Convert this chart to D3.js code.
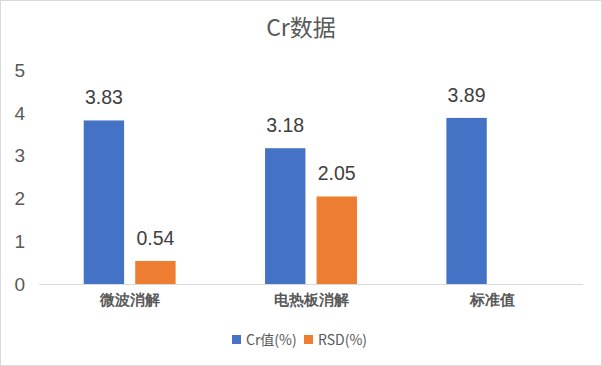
<!DOCTYPE html>
<html><head><meta charset="utf-8">
<script src="https://cdn.jsdelivr.net/npm/d3@7"></script>
<style>
body{margin:0;background:#fff;}
svg{display:block;font-family:"Noto Sans CJK SC","Noto Sans",sans-serif;}
</style></head>
<body>
<svg id="c" width="602" height="366"></svg>
<script>
const title = "Cr数据";
const categories = ["微波消解", "电热板消解", "标准值"];
const seriesNames = ["Cr值(%)", "RSD(%)"];
const crValues = [3.83, 3.18, 3.89];
const rsdValues = [0.54, 2.05, null];
const yTicks = [0, 1, 2, 3, 4, 5];
const colors = ["#4472C4", "#ED7D31"];

const seriesValues = [crValues, rsdValues];
const svg = d3.select("#c");
const W = 602, H = 366;
const numFont = "'Liberation Sans', Arial, sans-serif";

svg.append("rect").attr("x",0.5).attr("y",0.5).attr("width",W-1).attr("height",H-1)
  .attr("fill","#fff").attr("stroke","#d9d9d9");

const x0 = d3.scaleBand().domain(categories).range([39, 583]).paddingInner(0).paddingOuter(0);
const x1 = d3.scaleBand().domain(seriesNames).range([0, x0.bandwidth()]).paddingInner(0.216).paddingOuter(0.868);
const y = d3.scaleLinear().domain([0, 5]).range([284, 70.5]);

svg.append("text").attr("x", 301).attr("y", 36).attr("text-anchor","middle")
  .attr("font-size", 23).attr("fill","#595959").text(title);

// y tick labels
const yAxis = d3.axisLeft(y).tickValues(yTicks).tickSize(0).tickPadding(0).tickFormat(d3.format("d"));
const ya = svg.append("g").attr("transform","translate(25,0)").call(yAxis);
ya.select(".domain").remove();
ya.selectAll("text").attr("font-size",19).attr("fill","#595959").attr("font-family",numFont);

// baseline
svg.append("line").attr("x1",39).attr("x2",583).attr("y1",y(0)+0.5).attr("y2",y(0)+0.5)
  .attr("stroke","#d9d9d9").attr("stroke-width",1);

// bars
const data = [];
categories.forEach((c,i)=>seriesNames.forEach((s,j)=>{
  const v = seriesValues[j][i];
  if (v != null) data.push({c, s, v, j});
}));
svg.append("g").selectAll("rect").data(data).join("rect")
  .attr("x", d=>x0(d.c)+x1(d.s)).attr("width", x1.bandwidth())
  .attr("y", d=>y(d.v)).attr("height", d=>y(0)-y(d.v))
  .attr("fill", d=>colors[d.j]);
svg.append("g").selectAll("text").data(data).join("text")
  .attr("x", d=>x0(d.c)+x1(d.s)+x1.bandwidth()/2).attr("y", d=>y(d.v)-16)
  .attr("text-anchor","middle").attr("font-size",19.5).attr("fill","#404040")
  .attr("font-family",numFont)
  .text(d=>d3.format(".2f")(d.v));

// x axis labels
const xAxis = d3.axisBottom(x0).tickSize(0).tickPadding(0);
const xa = svg.append("g").attr("transform",`translate(0,${y(0)})`).call(xAxis);
xa.select(".domain").remove();
xa.selectAll("text").attr("dy",0).attr("y",21).attr("font-size",15).attr("font-weight","bold")
  .attr("fill","#595959").attr("font-family","inherit");

// legend
const legendX = [232, 304];
const lg = svg.append("g");
seriesNames.forEach((s,j)=>{
  lg.append("rect").attr("x",legendX[j]).attr("y",335).attr("width",9).attr("height",9).attr("fill",colors[j]);
  lg.append("text").attr("x",legendX[j]+14).attr("y",345).attr("font-size",14).attr("fill","#595959").text(s);
});
</script>
</body></html>
